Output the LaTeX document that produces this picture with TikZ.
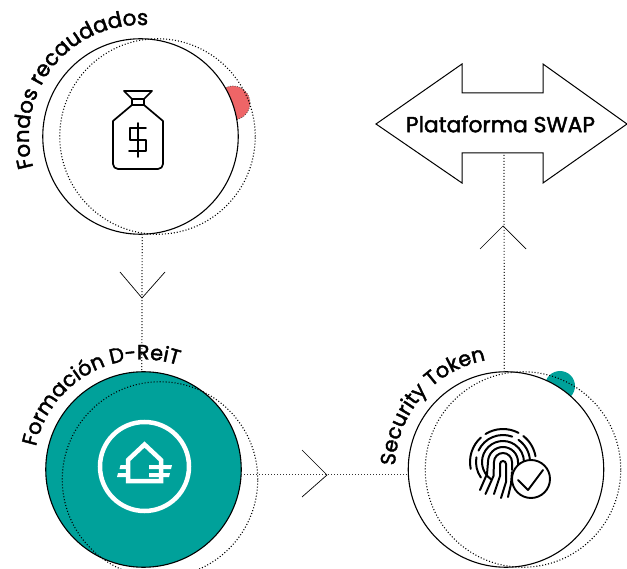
\documentclass[tikz,border=0pt]{standalone}
\usepackage{fontspec}
\usetikzlibrary{decorations.text}
\newfontfamily\lblfont[FakeBold=1.9]{Poppins}
\definecolor{tealc}{HTML}{00A19A}
\definecolor{pinkc}{HTML}{EE6567}
\tikzset{
 x=1pt,y=1pt,
 solidcirc/.style={circle,draw=black,line width=1.1pt,minimum size=195.5pt,inner sep=0pt,outer sep=0pt},
 dotcirc/.style={circle,draw=black,line width=1.1pt,dash pattern=on 1pt off 2pt,minimum size=195.5pt,inner sep=0pt,outer sep=0pt},
 link/.style={draw=black!80,line width=1.2pt,dash pattern=on 1pt off 2pt},
 chev/.style={draw=black,line width=.7pt},
 iconline/.style={draw=black,line width=1.7pt,line cap=round,line join=round},
 fp/.style={draw=black,line width=2pt,line cap=round},
 curved/.style={decorate,decoration={text along path,text align=left}},
 badge/.style={circle,inner sep=0pt,outer sep=0pt,minimum size=#1},
}
\newcommand{\lbl}{\fontsize{20.8}{22}\lblfont}
\begin{document}
\begin{tikzpicture}
\useasboundingbox (0,0) rectangle (627,-569);
\clip (0,0) rectangle (627,-569);
% badges
\node[badge=34pt,fill=pinkc,draw=black!70,line width=.7pt,dash pattern=on .9pt off 1.5pt] (p1) at (233,-103) {};
\node[badge=30pt,fill=tealc] (t1) at (560,-386) {};
% circles
\node[solidcirc,fill=white] (c1) at (140.5,-136.5) {};
\node[dotcirc] (d1) at (157.5,-136.5) {};
\node[solidcirc,fill=tealc] (c2) at (143.5,-469.5) {};
\node[dotcirc] (d2) at (160,-479.5) {};
\node[solidcirc,fill=white] (c3) at (506,-469.5) {};
\node[dotcirc] (d3) at (523,-469.5) {};
% double arrow
\coordinate (swapb) at (504,-153);
\draw[line width=1pt,fill=white,miter limit=8] (376,-124) -- (462,-64) -- (462,-93) -- (543,-93) -- (543,-64) -- (627,-124) -- (543,-183) -- (543,-153) -- (462,-153) -- (462,-183) -- cycle;
\node[inner sep=0pt,font=\fontsize{21.8}{23}\lblfont] (swaptext) at (500.5,-124) {Plataforma SWAP};
% connectors
\path[link] (c1.-89) -- (c2.91);
\path[link] (c2.-3) -- (c3.183);
\path[link] (c3.91) -- (swapb);
% chevrons
\coordinate (k1) at (142,-298);
\draw[chev] (k1) ++(-22,26) -- (k1) -- ++(23,26);
\coordinate (k2) at (327,-475);
\draw[chev] (k2) ++(-25,25) -- (k2) -- ++(-25,-22);
\coordinate (k3) at (503,-226);
\draw[chev] (k3) ++(-23,-23) -- (k3) -- ++(23,-23);
% curved labels
\path[curved,decoration={text={|\fontsize{21.4}{23}\lblfont|Fondos recaudados}}] (c1.center) ++(196:111.5) arc[start angle=196,end angle=60,radius=111.5];
\path[curved,decoration={text={|\lbl|Formación D-ReiT}}] (c2.center) ++(168:110) arc[start angle=168,end angle=40,radius=110];
\path[curved,decoration={text={|\lbl|Security Token}}] (c3.center) ++(178:111) arc[start angle=178,end angle=70,radius=111];
% money bag
\draw[iconline] (132,-99) -- (124,-91) -- (152,-91) -- (144,-99) -- cycle;
\draw[iconline] (132,-99) -- (132,-105) -- (144,-105) -- (144,-99);
\draw[iconline] (132,-105) -- (113,-121) -- (113,-164) arc[start angle=180,end angle=270,radius=5] -- (158,-169) arc[start angle=-90,end angle=0,radius=5] -- (163,-121) -- (144,-105);
\draw[iconline] (146,-128) -- (130,-128) -- (130,-140) -- (146,-140) -- (146,-151) -- (129,-151);
\draw[iconline] (138,-123) -- (138,-157);
% house icon
\draw[white,line width=4.5pt] (144.5,-466.5) circle[radius=44.5];
\draw[white,line width=4.5pt,miter limit=4] (128,-460) -- (144.5,-444.5) -- (161,-460) -- (161,-481) -- (128,-481) -- cycle;
\fill[white] (120.5,-465) -- (128,-465) -- (128,-469) -- (119.5,-469) -- cycle;
\fill[white] (118,-473) -- (128,-473) -- (128,-477) -- (117,-477) -- cycle;
\fill[white] (149,-465) -- (172,-465) -- (171,-469) -- (149,-469) -- cycle;
\fill[white] (149,-473) -- (170,-473) -- (169,-477) -- (149,-477) -- cycle;
% fingerprint
\coordinate (fc) at (503,-462);
\draw[fp] (fc) ++(192:33) arc[start angle=192,end angle=132,radius=33];
\draw[fp] (fc) ++(122:33) arc[start angle=122,end angle=62,radius=33];
\draw[fp] (fc) ++(52:33) arc[start angle=52,end angle=10,radius=33];
\draw[fp] (fc) ++(215:27) arc[start angle=215,end angle=170,radius=27];
\draw[fp] (fc) ++(155:27) arc[start angle=155,end angle=70,radius=27];
\draw[fp] (fc) ++(55:27) arc[start angle=55,end angle=5,radius=27];
\draw[fp] (fc) ++(235:21) arc[start angle=235,end angle=0,radius=21] -- ++(0,-6);
\draw[fp] (fc) ++(180:15) arc[start angle=180,end angle=0,radius=15] -- ++(0,-8);
\draw[fp] (fc) ++(180:15) -- ++(-1,-12) -- ++(-7,-16);
\draw[fp] (fc) ++(180:9) arc[start angle=180,end angle=0,radius=9] -- ++(0,-8);
\draw[fp] (fc) ++(180:9) -- ++(-.5,-14) -- ++(-8,-18);
\draw[fp] (fc) ++(-3,-2) arc[start angle=180,end angle=0,radius=3] -- ++(0,-18) -- ++(-5,-16);
\draw[fp] (fc) ++(-3,-2) -- ++(0,-12) -- ++(-6,-18);
\draw[fp] (fc) ++(9,-10) -- ++(-1,-12) -- ++(-3,-13);
% check
\node[badge=38pt,fill=white,draw=black,line width=1.9pt] (chk) at (531,-479) {};
\draw[iconline,line width=1.9pt] (518,-480) -- (528,-490) -- (543,-470);
\end{tikzpicture}
\end{document}
